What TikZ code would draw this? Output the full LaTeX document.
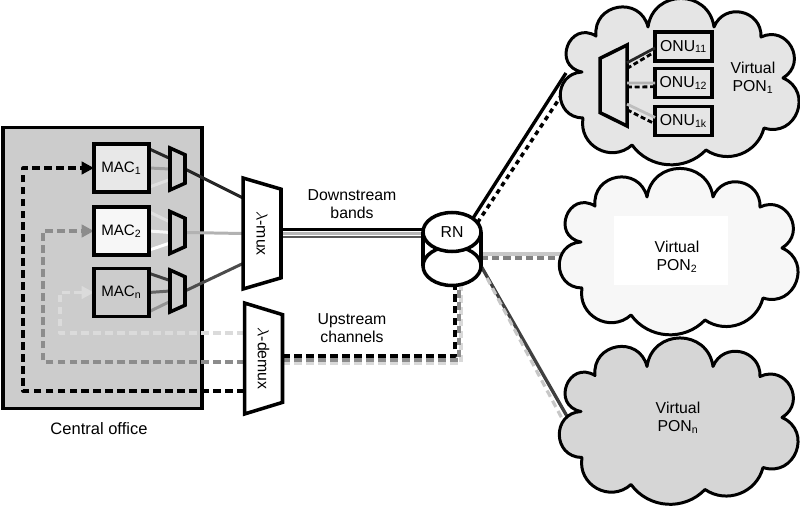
\documentclass[tikz,border=0pt]{standalone}
\usepackage{fontspec}
\setmainfont{Liberation Sans}
\usepackage{tikz}
\usetikzlibrary{shapes.geometric,arrows.meta,calc}
\pgfdeclarelayer{panel}
\pgfdeclarelayer{links}
\pgfsetlayers{panel,links,main}

\begin{document}
\begin{tikzpicture}[
    x=0.02cm, y=-0.02cm,
    font=\fontsize{9}{10.2}\selectfont,
    office/.style={rectangle, draw=black, fill=black!20, line width=2.2pt, minimum width=3.98cm, minimum height=5.62cm, outer sep=0pt},
    macbox/.style={rectangle, draw=black, line width=2.2pt, minimum width=1.1cm, minimum height=0.96cm, inner sep=0pt, outer sep=0pt, font=\fontsize{8.6}{10}\selectfont},
    onubox/.style={rectangle, draw=black, fill=black!10, line width=2pt, minimum width=1.14cm, minimum height=0.58cm, inner sep=0pt, outer sep=0pt},
    bandmux/.style={trapezium, draw=black, fill=white, line width=2pt, trapezium stretches body=true, minimum width=2.22cm, minimum height=0.76cm, trapezium left angle=45, trapezium right angle=45, inner sep=0pt, outer sep=0pt},
    tapmux/.style={trapezium, draw=black, fill=black!20, line width=2pt, trapezium stretches body=true, minimum width=0.84cm, minimum height=0.3cm, trapezium left angle=51, trapezium right angle=51, inner sep=0pt, outer sep=0pt, rotate=-90},
    rnbody/.style={ellipse, draw=black, fill=white, line width=2pt, minimum width=1.16cm, minimum height=0.78cm, inner sep=0pt, outer sep=0pt},
    tapline/.style={line width=1.7pt},
    upline/.style={line width=1.8pt, dash pattern=on 4.4pt off 2.4pt, line join=round},
    onudash/.style={line width=1.6pt, black, dash pattern=on 2.8pt off 1.6pt},
    arrowtip/.style={-{Triangle[length=7pt,width=7pt]}},
    label/.style={align=center, inner sep=0pt},
    bump/.code={\pgfmathsetmacro\bumploose{1.703/(1+cos(#1))}\pgfkeysalso{bend left=#1, looseness=\bumploose}},
    pics/poncloud/.style={code={
        \draw[black, fill=#1, line width=1.7pt, line join=round]
            (97,32) to[bump=82] (163,32) to[bump=80] (210,42) to[bump=87] (232,83)
            to[bump=87] (213,133) to[bump=55] (155,155) to[bump=50] (81,150)
            to[bump=71] (32,123) to[bump=88] (31,77) to[bump=100] (45,41)
            to[bump=86] (97,32) -- cycle;
    }}
]
    \useasboundingbox (0,0) rectangle (800,506);

    % Central office
    \begin{pgfonlayer}{panel}
        \node[office] (co) at (102.5,268) {};
        \draw[line width=2.8pt] (co.north west) -- (co.south west);
    \end{pgfonlayer}

    % MACs and their small muxes
    \node[macbox, fill=black!9] (mac1) at (121.5,168) {MAC\textsubscript{1}};
    \node[macbox, fill=black!3] (mac2) at (121.5,231) {MAC\textsubscript{2}};
    \node[macbox, fill=black!20] (macn) at (121.5,292.5) {MAC\textsubscript{n}};
    \node[tapmux] (tap1) at (177.5,169) {\phantom{x}};
    \node[tapmux] (tap2) at (177.5,232.5) {\phantom{x}};
    \node[tapmux] (tapn) at (177.5,291) {\phantom{x}};

    % Wavelength muxes
    \node[bandmux, rotate=-90] (mux) at (262,233.5) {$\lambda$-mux};
    \node[bandmux, rotate=-90] (demux) at (263.5,358.5) {$\lambda$-demux};

    % RN
    \node[rnbody] (rnbase) at (452,266) {\phantom{x}};
    \draw[line width=2pt] (rnbase.west) -- ++(0,-34);
    \draw[line width=2pt] (rnbase.east) -- ++(0,-34);
    \node[rnbody] (rn) at (452,232) {RN};

    \begin{pgfonlayer}{links}
        % Laser lines into the small muxes
        \foreach \row/\cola/\colb/\colc in {1/black!85/black!38/black!12, 2/black!12/black!3/white, n/black!75/black!60/black!42}{
            \draw[tapline, \cola] ($(mac\row.north east)!.1!(mac\row.south east)$) -- ($(tap\row.bottom left corner)!.25!(tap\row.bottom right corner)$);
            \draw[tapline, \colb] (mac\row.east) -- (tap\row.south);
            \draw[tapline, \colc] ($(mac\row.north east)!.9!(mac\row.south east)$) -- ($(tap\row.bottom left corner)!.75!(tap\row.bottom right corner)$);
        }
        \draw[tapline, black!85] (tap1.north) -- ($(mux.bottom left corner)!.18!(mux.bottom right corner)$);
        \draw[tapline, black!30] (tap2.north) -- (mux.south);
        \draw[tapline, black!70] (tapn.north) -- ($(mux.bottom left corner)!.77!(mux.bottom right corner)$);

        % Downstream bands
        \coordinate (banda) at (452,229.5);
        \coordinate (bandb) at (452,233.5);
        \coordinate (bandc) at (452,237);
        \draw[line width=1.8pt, black] (mux.north |- banda) -- (banda);
        \draw[line width=1.8pt, black!28] (mux.north |- bandb) -- (bandb);
        \draw[line width=1.5pt, black!65] (mux.north |- bandc) -- (bandc);

        % Upstream channels
        \coordinate (rnup1) at (461,363);
        \coordinate (rnup2) at (459,360);
        \coordinate (rnup3) at (455,356);
        \coordinate (updn1) at (60,333);
        \coordinate (updn2) at (43,362);
        \coordinate (updn3) at (23,391);
        \draw[upline, black!15] (demux.north |- rnup1) -- (rnup1) -- (rnup1 |- rnbase.south);
        \draw[upline, black!45] (demux.north |- rnup2) -- (rnup2) -- (rnup2 |- rnbase.south);
        \draw[upline, black] (demux.north |- rnup3) -- (rnup3) -- (rnup3 |- rnbase.south);
        \draw[upline, arrowtip, black!14] (demux.south |- updn1) -- (updn1) -- (updn1 |- macn.west) -- (macn.west);
        \draw[upline, arrowtip, black!45] (demux.south |- updn2) -- (updn2) -- (updn2 |- mac2.west) -- (mac2.west);
        \draw[upline, arrowtip, black] (demux.south |- updn3) -- (updn3) -- (updn3 |- mac1.west) -- (mac1.west);

        % Links out of the RN
        \coordinate (pon1a) at (566,73);
        \coordinate (pon1b) at (561,96);
        \coordinate (pon2a) at (572,254);
        \coordinate (pon2b) at (572,258);
        \coordinate (pon3a) at (572,425);
        \coordinate (pon3b) at (566,426);
        \coordinate (rnlow) at (487,278);
        \draw[line width=1.9pt, black] (rn.33) -- (pon1a);
        \draw[line width=2pt, black, dash pattern=on 2.6pt off 2.4pt] (rn.20) -- (pon1b);
        \draw[line width=1.8pt, black!22] (rnbase.east |- pon2a) -- (pon2a);
        \draw[line width=1.8pt, black!50, dash pattern=on 4pt off 2.4pt] (rnbase.east |- pon2b) -- (pon2b);
        \draw[line width=1.9pt, black!75] (rnbase.east) -- (pon3a);
        \draw[line width=1.8pt, black!22, dash pattern=on 4pt off 2.6pt] (rnlow) -- (pon3b);
    \end{pgfonlayer}

    % Virtual PONs
    \pic at (551,-5) {poncloud=black!10};
    \pic at (550,165) {poncloud=black!3};
    \pic at (550,334.5) {poncloud=black!16};
    \node[fill=white, minimum width=2.28cm, minimum height=1.38cm, inner sep=0pt] (pon2bg) at (671,250.5) {};
    \node[label] (pon1) at (753,78) {Virtual\\PON\textsubscript{1}};
    \node[label] (pon2) at (677,257) {Virtual\\PON\textsubscript{2}};
    \node[label] (ponn) at (678,418) {Virtual\\PON\textsubscript{n}};

    % ONUs
    \node[bandmux, rotate=90, fill=black!10, minimum width=1.62cm, minimum height=0.54cm, trapezium left angle=32, trapezium right angle=32] (ponmux) at (613.5,85.5) {\phantom{x}};
    \node[onubox] (onu11) at (683.5,46.5) {ONU\textsubscript{11}};
    \node[onubox] (onu12) at (683.5,83) {ONU\textsubscript{12}};
    \node[onubox] (onu1k) at (683.5,121) {ONU\textsubscript{1k}};
    \draw[line width=1.6pt, black!85] ($(ponmux.bottom right corner)!.22!(ponmux.bottom left corner)$) -- ($(onu11.north west)!.55!(onu11.south west)$);
    \draw[onudash] ($(ponmux.bottom right corner)!.29!(ponmux.bottom left corner)$) -- ($(onu11.north west)!.68!(onu11.south west)$);
    \draw[line width=1.6pt, black!30] ($(ponmux.bottom right corner)!.47!(ponmux.bottom left corner)$) -- ($(onu12.north west)!.5!(onu12.south west)$);
    \draw[onudash] ($(ponmux.bottom right corner)!.52!(ponmux.bottom left corner)$) -- ($(onu12.north west)!.63!(onu12.south west)$);
    \draw[line width=1.6pt, black!25] ($(ponmux.bottom right corner)!.73!(ponmux.bottom left corner)$) -- ($(onu1k.north west)!.38!(onu1k.south west)$);
    \draw[onudash] ($(ponmux.bottom right corner)!.80!(ponmux.bottom left corner)$) -- ($(onu1k.north west)!.6!(onu1k.south west)$);

    % Captions
    \node[label] (bands) at (352,204) {Downstream\\bands};
    \node[label] (channels) at (352,328) {Upstream\\channels};
    \node[label, font=\fontsize{9.4}{11}\selectfont] (office) at (99,429) {Central office};
\end{tikzpicture}
\end{document}
